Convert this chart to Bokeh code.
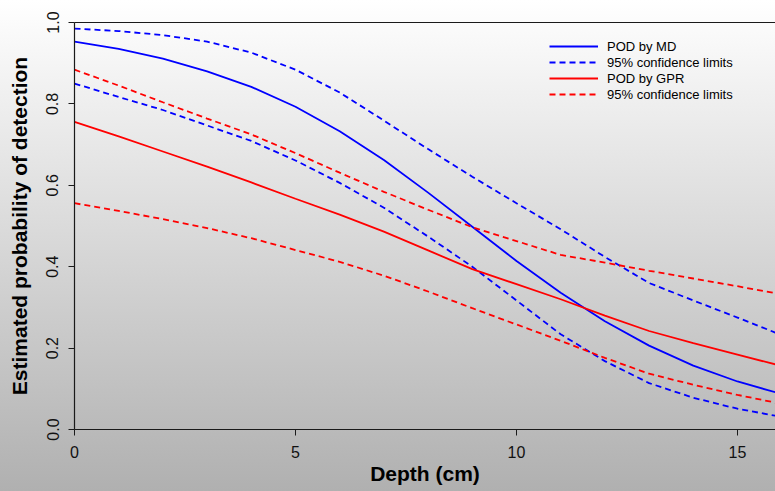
from bokeh.plotting import figure
from bokeh.models import Range1d, FixedTicker, LinearAxis, Legend, LegendItem
from bokeh.embed import file_html
from bokeh.resources import INLINE

# ---- data ----
depth = [0, 1, 2, 3, 4, 5, 6, 7, 8, 9, 10, 11, 12, 13, 14, 15, 16]

md_pod = [0.953, 0.935, 0.911, 0.880, 0.842, 0.793, 0.733, 0.662, 0.582, 0.498,
          0.414, 0.336, 0.266, 0.206, 0.157, 0.118, 0.087]
md_upper = [0.985, 0.979, 0.969, 0.953, 0.926, 0.884, 0.828, 0.759, 0.689, 0.621,
            0.556, 0.492, 0.424, 0.360, 0.317, 0.275, 0.232]
md_lower = [0.850, 0.817, 0.785, 0.747, 0.709, 0.661, 0.606, 0.545, 0.474, 0.400,
            0.317, 0.234, 0.168, 0.114, 0.078, 0.051, 0.031]

gpr_pod = [0.756, 0.720, 0.683, 0.646, 0.607, 0.567, 0.528, 0.486, 0.440, 0.394,
           0.357, 0.320, 0.280, 0.242, 0.212, 0.184, 0.156]
gpr_upper = [0.884, 0.845, 0.804, 0.764, 0.725, 0.679, 0.631, 0.584, 0.540, 0.497,
             0.463, 0.429, 0.410, 0.390, 0.371, 0.352, 0.332]
gpr_lower = [0.556, 0.537, 0.517, 0.495, 0.470, 0.441, 0.412, 0.378, 0.339, 0.298,
             0.258, 0.218, 0.176, 0.137, 0.110, 0.085, 0.063]

x_ticks = [0, 5, 10, 15]
y_ticks = [0.0, 0.2, 0.4, 0.6, 0.8, 1.0]
y_tick_labels = ["0.0", "0.2", "0.4", "0.6", "0.8", "1.0"]
legend_labels = ["POD by MD", "95% confidence limits", "POD by GPR", "95% confidence limits"]

FONT = "Liberation Sans"
BLUE = "#0000ff"
RED = "#ff0000"
DASH = "6 4"
AXIS_COLOR = "#1a1a1a"

p = figure(width=775, height=491, output_backend="svg", toolbar_location=None,
           x_range=Range1d(0, 15.86), y_range=Range1d(0, 1),
           min_border_left=74, min_border_right=0, min_border_top=22, min_border_bottom=62,
           background_fill_alpha=0, border_fill_alpha=0, outline_line_color=None)
p.grid.visible = False

r1 = p.line(depth, md_pod, line_color=BLUE, line_width=1.8)
r2 = p.line(depth, md_upper, line_color=BLUE, line_width=1.8, line_dash=DASH)
p.line(depth, md_lower, line_color=BLUE, line_width=1.8, line_dash=DASH)
r3 = p.line(depth, gpr_pod, line_color=RED, line_width=1.8)
r4 = p.line(depth, gpr_upper, line_color=RED, line_width=1.8, line_dash=DASH)
p.line(depth, gpr_lower, line_color=RED, line_width=1.8, line_dash=DASH)

xa = p.xaxis[0]
xa.ticker = FixedTicker(ticks=x_ticks)
xa.minor_tick_line_color = None
xa.major_tick_in = 0
xa.major_tick_out = 6
xa.axis_line_color = AXIS_COLOR
xa.major_tick_line_color = AXIS_COLOR
xa.axis_line_width = 1.2
xa.major_label_text_font = FONT
xa.major_label_text_font_size = "16px"
xa.major_label_text_color = "#111111"
xa.major_label_standoff = 10
xa.axis_label = "Depth (cm)"
xa.axis_label_text_font = FONT
xa.axis_label_text_font_size = "21px"
xa.axis_label_text_font_style = "bold"
xa.axis_label_text_color = "#000000"
xa.axis_label_standoff = 1

ya = p.yaxis[0]
ya.ticker = FixedTicker(ticks=y_ticks)
ya.major_label_overrides = {t: s for t, s in zip(y_ticks, y_tick_labels)}
ya.minor_tick_line_color = None
ya.major_tick_in = 0
ya.major_tick_out = 6
ya.axis_line_color = AXIS_COLOR
ya.major_tick_line_color = AXIS_COLOR
ya.axis_line_width = 1.2
ya.major_label_orientation = "vertical"
ya.major_label_text_font = FONT
ya.major_label_text_font_size = "16px"
ya.major_label_text_color = "#111111"
ya.major_label_standoff = 10
ya.axis_label = "Estimated probability of detection"
ya.axis_label_text_font = FONT
ya.axis_label_text_font_size = "21px"
ya.axis_label_text_font_style = "bold"
ya.axis_label_text_color = "#000000"
ya.axis_label_standoff = 13

top = LinearAxis(ticker=FixedTicker(ticks=[]), major_tick_in=0, major_tick_out=0,
                 minor_tick_in=0, minor_tick_out=0, major_label_standoff=0,
                 axis_line_color=AXIS_COLOR, axis_line_width=1.2)
p.add_layout(top, "above")

legend = Legend(items=[LegendItem(label=legend_labels[0], renderers=[r1]),
                       LegendItem(label=legend_labels[1], renderers=[r2]),
                       LegendItem(label=legend_labels[2], renderers=[r3]),
                       LegendItem(label=legend_labels[3], renderers=[r4])],
                location=(475, 327), orientation="vertical",
                padding=0, margin=0, spacing=0,
                glyph_width=49, glyph_height=16, label_height=16, label_standoff=9,
                label_text_font=FONT, label_text_font_size="13px",
                label_text_color="#000000",
                border_line_alpha=0, background_fill_alpha=0)
p.add_layout(legend)

STYLE = ("<style>html,body{margin:0;padding:0;}html{min-height:100%;"
         "background:linear-gradient(to bottom,#ffffff 0%,#b0b0b0 100%) fixed;}"
         "body{background:transparent;overflow:hidden;}</style>")

open("out.html", "w").write(file_html(p, INLINE).replace("</head>", STYLE + "</head>"))
